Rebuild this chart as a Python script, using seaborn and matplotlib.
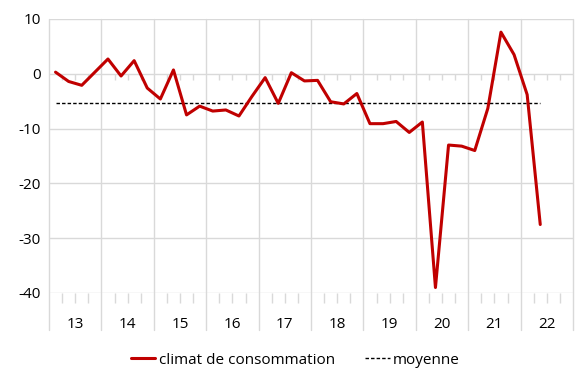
import numpy as np
import pandas as pd
import matplotlib
matplotlib.use("Agg")
import matplotlib.pyplot as plt
import seaborn as sns

# quarterly values, 2013 Q1 -> 2022 Q2
climat = [0.3, -1.4, -2.1, 0.3, 2.7, -0.4, 2.4, -2.6, -4.6, 0.7,
          -7.5, -5.9, -6.8, -6.6, -7.7, -4.1, -0.7, -5.4, 0.2, -1.3,
          -1.2, -5.1, -5.5, -3.6, -9.1, -9.1, -8.7, -10.7, -8.8, -39.0,
          -13.0, -13.2, -14.0, -6.3, 7.6, 3.5, -3.8, -27.5]
moyenne = -5.4
years = ["13", "14", "15", "16", "17", "18", "19", "20", "21", "22"]

df = pd.DataFrame({"q": np.arange(len(climat)) + 0.5, "climat": climat})
df["moyenne"] = moyenne

sns.set_style("white")
plt.rcParams["font.family"] = ["Open Sans", "DejaVu Sans"]
plt.rcParams["axes.unicode_minus"] = False

fig = plt.figure(figsize=(5.82, 3.76), dpi=100)
ax = fig.add_axes([49 / 582, 83 / 376, 524 / 582, 274 / 376])

grid_c = "#d9d9d9"
nq = len(years) * 4

# gridlines
for yv in range(-40, 11, 10):
    ax.axhline(yv, color=grid_c, lw=1, zorder=0)
for k in range(len(years) + 1):
    ax.plot([k * 4, k * 4], [-0.135, 1], transform=ax.get_xaxis_transform(),
            color=grid_c, lw=1, clip_on=False, zorder=0)

# quarter ticks on the zero line and on the bottom
qt = [q for q in range(nq) if q % 4 != 0]
ax.vlines(qt, 0, -1.1, color=grid_c, lw=1, zorder=0)
ax.vlines(qt, -40, -41.8, color=grid_c, lw=1, clip_on=False, zorder=0)

sns.lineplot(data=df, x="q", y="climat", color="#c00000", lw=2.2, ax=ax,
             label="climat de consommation", zorder=3)
sns.lineplot(data=df, x="q", y="moyenne", color="black", lw=1.0, ax=ax,
             linestyle=(0, (2.5, 1.5)), label="moyenne", zorder=2)

ax.set_xlim(0, nq)
ax.set_ylim(-40, 10)
ax.set_yticks(range(-40, 11, 10))
ax.tick_params(axis="y", labelsize=11, length=0, pad=6, labelcolor="black")
ax.set_xticks([k * 4 + 2 for k in range(len(years))])
ax.set_xticklabels(years)
ax.tick_params(axis="x", labelsize=11, length=0, pad=17, labelcolor="black")
ax.set_xlabel("")
ax.set_ylabel("")
for s in ax.spines.values():
    s.set_visible(False)

leg = ax.legend(loc="center", bbox_to_anchor=(0.47, -0.245), ncol=2, frameon=False,
                fontsize=11, handlelength=1.6, handletextpad=0.2, columnspacing=2.0)
for t in leg.get_texts():
    t.set_color("black")

fig.savefig("out.png", dpi=100)
